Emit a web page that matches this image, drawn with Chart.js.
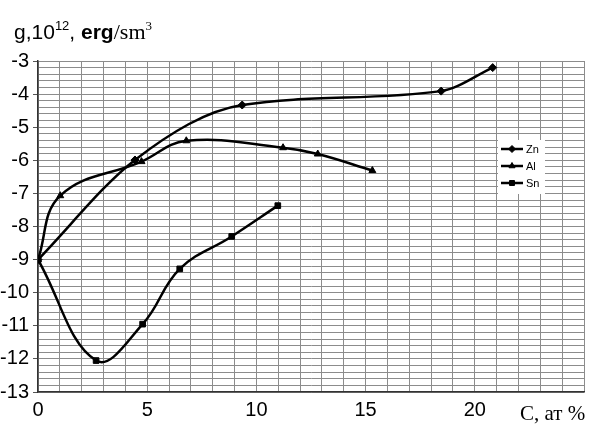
<!DOCTYPE html>
<html>
<head>
<meta charset="utf-8">
<script src="https://cdn.jsdelivr.net/npm/chart.js@4.4.1/dist/chart.umd.min.js"></script>
<style>
  body { margin: 0; background: #fff; }
  #wrap { position: relative; width: 590px; height: 426px; }
  #yTitle { position: absolute; left: 14px; top: 19px; font: 21px "Liberation Sans", Arial, sans-serif; color: #000; white-space: nowrap; }
  #yTitle sup { font-size: 13px; vertical-align: 9px; line-height: 0; }
  #yTitle .serif { font-family: "Liberation Serif", "Times New Roman", serif; font-size: 22px; }
  #xTitle { position: absolute; left: 520px; top: 401px; font: 21px "Liberation Serif", "Times New Roman", serif; color: #000; white-space: nowrap; }
</style>
</head>
<body>
<div id="wrap">
  <canvas id="chart" width="590" height="426"></canvas>
  <div id="yTitle">g,10<sup>12</sup>, <b>erg</b><span class="serif">/sm<sup>3</sup></span></div>
  <div id="xTitle">C, ат %</div>
</div>
<script>
// ---------- Data ----------
const znX = [0, 4.44, 9.35, 18.46, 20.82];
const znY = [-9, -5.99, -4.33, -3.91, -3.2];

const alX = [0, 1.02, 4.74, 6.79, 11.22, 12.81, 15.31];
const alY = [-9, -7.07, -6.04, -5.41, -5.62, -5.81, -6.31];

const snX = [0, 2.66, 4.79, 6.49, 8.87, 10.98];
const snY = [-9, -12.05, -10.95, -9.28, -8.30, -7.37];

const seriesNames = ["Zn", "Al", "Sn"];
const xLabels = [0, 5, 10, 15, 20];
const yLabels = [-3, -4, -5, -6, -7, -8, -9, -10, -11, -12, -13];

// ---------- Helpers ----------
function toPoints(xs, ys) { return xs.map((x, i) => ({ x: x, y: ys[i] })); }
function isWhole(v) { return Math.abs(v - Math.round(v)) < 1e-6; }

function makeSet(label, xs, ys, style, mode) {
  return {
    label: label,
    data: toPoints(xs, ys),
    showLine: true,
    tension: 0.4,
    cubicInterpolationMode: mode,
    borderColor: "#000",
    backgroundColor: "#000",
    borderWidth: 2.5,
    pointStyle: style,
    pointRadius: 4,
    pointBorderWidth: 1
  };
}

// legend drawn inside the plot, like the original
const insideLegend = {
  id: "insideLegend",
  afterDatasetsDraw(chart) {
    const ctx = chart.ctx;
    ctx.save();
    ctx.fillStyle = "#fff";
    ctx.fillRect(498, 140, 47, 54);
    const rows = [149, 166, 183];
    chart.data.datasets.forEach((ds, i) => {
      const y = rows[i];
      ctx.strokeStyle = "#000";
      ctx.lineWidth = 2.5;
      ctx.beginPath();
      ctx.moveTo(501, y);
      ctx.lineTo(523, y);
      ctx.stroke();
      ctx.fillStyle = "#000";
      ctx.lineWidth = 1;
      Chart.helpers.drawPoint(ctx, { pointStyle: ds.pointStyle, radius: 3.5, rotation: 0, borderWidth: 1 }, 512, y);
      ctx.font = "11px 'Liberation Sans', Arial, sans-serif";
      ctx.textBaseline = "middle";
      ctx.fillText(ds.label, 526, y + 1);
    });
    ctx.restore();
  }
};

new Chart(document.getElementById("chart"), {
  type: "scatter",
  data: {
    datasets: [
      makeSet(seriesNames[0], znX, znY, "rectRot", "monotone"),
      makeSet(seriesNames[1], alX, alY, "triangle", "default"),
      makeSet(seriesNames[2], snX, snY, "rect", "default")
    ]
  },
  options: {
    responsive: false,
    animation: false,
    layout: { padding: { top: 61, right: 4, left: 0, bottom: 0 } },
    plugins: { legend: { display: false }, tooltip: { enabled: false } },
    scales: {
      x: {
        type: "linear",
        min: 0,
        max: 25,
        afterFit: (s) => { s.height = 34; },
        grid: { color: "#8c8c8c", lineWidth: 1, drawTicks: false },
        border: { color: "#333", width: 1.5 },
        ticks: {
          stepSize: 1,
          autoSkip: false,
          maxRotation: 0,
          minRotation: 0,
          padding: 6,
          color: "#000",
          font: { family: "'Liberation Sans', Arial, sans-serif", size: 20 },
          callback: (v) => (xLabels.includes(v) ? String(v) : "")
        }
      },
      y: {
        min: -13,
        max: -3,
        afterFit: (s) => { s.width = 38; },
        grid: {
          color: "#8c8c8c",
          lineWidth: 1,
          tickLength: 5,
          tickColor: (c) => (isWhole(c.tick.value) ? "#555" : "rgba(0,0,0,0)")
        },
        border: { color: "#333", width: 1.5 },
        ticks: {
          stepSize: 0.2,
          autoSkip: false,
          padding: 4,
          color: "#000",
          font: { family: "'Liberation Sans', Arial, sans-serif", size: 20 },
          callback: (v) => {
            const r = Math.round(v);
            return isWhole(v) && yLabels.includes(r) ? String(r) : "";
          }
        }
      }
    }
  },
  plugins: [insideLegend]
});
</script>
</body>
</html>
